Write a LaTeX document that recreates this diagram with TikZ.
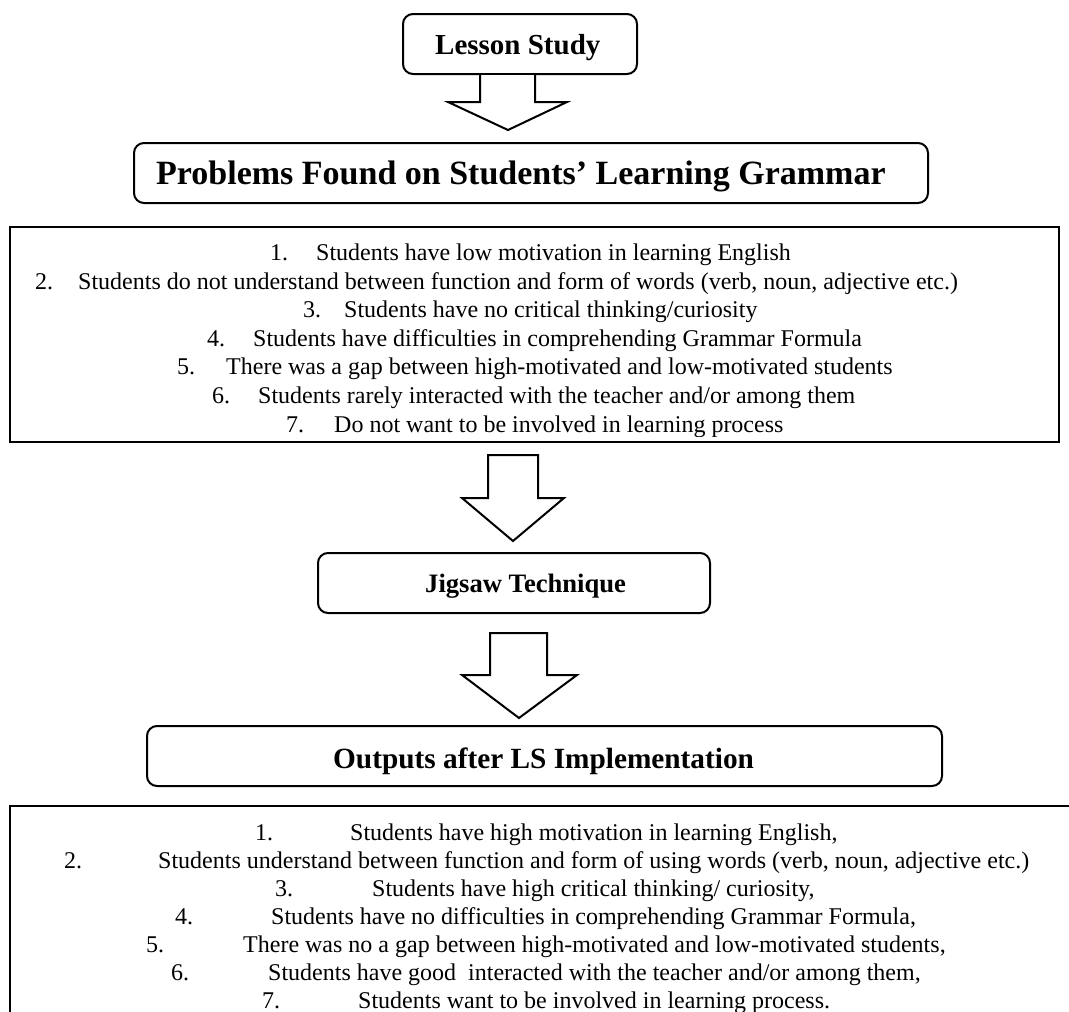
\documentclass[tikz,border=0pt]{standalone}
\usepackage{fontspec}
\setmainfont{Liberation Serif}
\usetikzlibrary{calc}
\begin{document}
\begin{tikzpicture}[x=1pt,y=-1pt,
  rbox/.style={draw, line width=2pt, rounded corners=10pt, inner sep=0pt},
  lbox/.style={draw, line width=2.5pt, inner sep=0pt},
  headtxt/.style={inner sep=0pt, anchor=base west},
  itemtxt/.style={inner sep=0pt, anchor=base west, font=\fontsize{24}{28}\selectfont},
  barrow/.style={draw, line width=2pt, line join=miter, fill=white}]
\useasboundingbox (0,0) rectangle (1069,1012);
\fill[white] (0,0) rectangle (1069,1012);

% ---- heading boxes
\node[rbox, minimum width=234pt, minimum height=60pt] (ls) at (520,44) {};
\node[headtxt, font=\bfseries\fontsize{29}{34}\selectfont] (lst) at (435,54) {Lesson Study};

\node[rbox, minimum width=794pt, minimum height=60pt] (pb) at (531,173) {};
\node[headtxt, font=\bfseries\fontsize{34}{40}\selectfont] (pbt) at (156,184) {Problems Found on Students’ Learning Grammar};

\node[rbox, minimum width=392pt, minimum height=60pt] (jg) at (514,583) {};
\node[headtxt, font=\bfseries\fontsize{26.6}{32}\selectfont] (jgt) at (425,592) {Jigsaw Technique};

\node[rbox, minimum width=795pt, minimum height=60pt] (op) at (544.5,756) {};
\node[headtxt, font=\bfseries\fontsize{29.3}{34}\selectfont] (opt) at (333,768) {Outputs after LS Implementation};

% ---- list box 1
\node[lbox, minimum width=1049pt, minimum height=215pt] (l1) at (534.5,334.5) {};
\begin{scope}
\clip (10,227) rectangle (1059,436);
\node[itemtxt] (n11) at (270,260) {1.};
\node[itemtxt] (t11) at (316,260) {Students have low motivation in learning English};
\node[itemtxt] (n12) at (35,289) {2.};
\node[itemtxt] (t12) at (78,289) {Students do not understand between function and form of words (verb, noun, adjective etc.)};
\node[itemtxt] (n13) at (303,317.5) {3.};
\node[itemtxt] (t13) at (344,317.5) {Students have no critical thinking/curiosity};
\node[itemtxt] (n14) at (207,346) {4.};
\node[itemtxt] (t14) at (253,346) {Students have difficulties in comprehending Grammar Formula};
\node[itemtxt] (n15) at (177,374.5) {5.};
\node[itemtxt] (t15) at (226,374.5) {There was a gap between high-motivated and low-motivated students};
\node[itemtxt] (n16) at (212,403) {6.};
\node[itemtxt] (t16) at (258,403) {Students rarely interacted with the teacher and/or among them};
\node[itemtxt] (n17) at (286,432) {7.};
\node[itemtxt] (t17) at (334,432) {Do not want to be involved in learning process};
\end{scope}

% ---- list box 2 (cut by the picture edge)
\begin{scope}
\clip (0,0) rectangle (1069,1012);
\node[lbox, minimum width=1070pt, minimum height=230pt] (l2) at (545,921) {};
\node[itemtxt] (n21) at (255,840) {1.};
\node[itemtxt] (t21) at (350,840) {Students have high motivation in learning English,};
\node[itemtxt] (n22) at (64,868) {2.};
\node[itemtxt] (t22) at (158,868) {Students understand between function and form of using words (verb, noun, adjective etc.)};
\node[itemtxt] (n23) at (275,896) {3.};
\node[itemtxt] (t23) at (372,896) {Students have high critical thinking/ curiosity,};
\node[itemtxt] (n24) at (175,924) {4.};
\node[itemtxt] (t24) at (271,924) {Students have no difficulties in comprehending Grammar Formula,};
\node[itemtxt] (n25) at (146,952) {5.};
\node[itemtxt] (t25) at (243,952) {There was no a gap between high-motivated and low-motivated students,};
\node[itemtxt] (n26) at (171,980) {6.};
\node[itemtxt] (t26) at (268,980) {Students have good\ \ interacted with the teacher and/or among them,};
\node[itemtxt] (n27) at (262,1008) {7.};
\node[itemtxt] (t27) at (358,1008) {Students want to be involved in learning process.};
\end{scope}

% ---- block arrows
\coordinate (a1tip) at (508,130);
\coordinate (a2tip) at (513,541);
\coordinate (a3tip) at (519,718);
\draw[barrow] (480,0 |- ls.south) -- (480,102) -- (448,102) -- (a1tip) -- (567,102) -- (535,102) -- (535,0 |- ls.south);
\draw[barrow] (488,455) -- (488,498) -- (462,498) -- (a2tip) -- (564,498) -- (538,498) -- (538,455) -- cycle;
\draw[barrow] (490,633) -- (490,675) -- (462,675) -- (a3tip) -- (577,675) -- (547,675) -- (547,633) -- cycle;
\end{tikzpicture}
\end{document}
